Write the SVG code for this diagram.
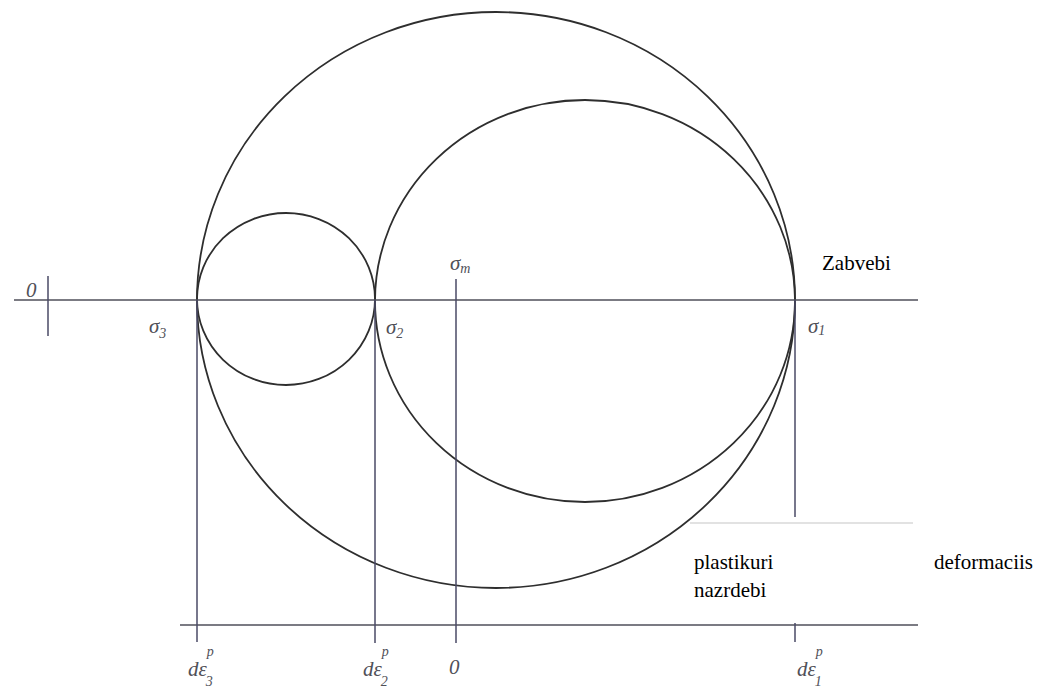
<svg xmlns="http://www.w3.org/2000/svg" width="1050" height="693" viewBox="0 0 1050 693">
<style>
.circ{fill:none;stroke:#2e2e2e;stroke-width:1.8}
.ax{fill:none;stroke:#4f4f5a;stroke-width:1.6}
.vl{fill:none;stroke:#4a4a66;stroke-width:1.5}
.hand{font-style:italic;fill:#505058;font-size:21px}
.sub{font-size:14px}
.txt{fill:#000;font-size:21px}
</style>
<rect width="1050" height="693" fill="#fff"/>
<g id="big-circle"><ellipse class="circ" cx="496" cy="300" rx="299" ry="288"/></g>
<g id="medium-circle"><ellipse class="circ" cx="585" cy="301" rx="210" ry="201"/></g>
<g id="small-circle"><ellipse class="circ" cx="286" cy="299" rx="89" ry="86"/></g>
<g id="connectors">
<line class="ax" x1="14" y1="300" x2="918" y2="300"/>
<line class="vl" x1="48" y1="276" x2="48" y2="336"/>
<line class="ax" x1="180" y1="625" x2="918" y2="625"/>
<line class="vl" x1="197" y1="300" x2="197" y2="642"/>
<line class="vl" x1="375" y1="300" x2="375" y2="643"/>
<line class="vl" x1="456" y1="279" x2="456" y2="643"/>
<line class="vl" x1="795" y1="300" x2="795" y2="517"/>
<line class="vl" x1="795" y1="622" x2="795" y2="642"/>
</g>
<g id="box" font-family="Liberation Serif, DejaVu Serif, serif">
<line x1="690" y1="523" x2="913" y2="523" stroke="#e2e2e2" stroke-width="2"/>
<rect x="686" y="527" width="364" height="96" fill="#fff"/>
<text class="txt" x="694" y="569" font-family="Liberation Serif, DejaVu Serif, serif">plastikuri</text>
<text class="txt" x="1033" y="569" text-anchor="end" font-family="Liberation Serif, DejaVu Serif, serif">deformaciis</text>
<text class="txt" x="694" y="597" font-family="Liberation Serif, DejaVu Serif, serif">nazrdebi</text>
</g>
<g id="label-zabvebi"><text class="txt" x="822" y="270" font-family="Liberation Serif, DejaVu Serif, serif">Zabvebi</text></g>
<g id="labels" font-family="Liberation Serif, DejaVu Serif, serif">
<text class="hand" x="26" y="297" font-family="Liberation Serif, DejaVu Serif, serif">0</text>
<text class="hand" x="149" y="333" font-family="Liberation Serif, DejaVu Serif, serif">σ<tspan class="sub" dy="5">3</tspan></text>
<text class="hand" x="386" y="334" font-family="Liberation Serif, DejaVu Serif, serif">σ<tspan class="sub" dy="4">2</tspan></text>
<text class="hand" x="450" y="270" font-family="Liberation Serif, DejaVu Serif, serif">σ<tspan class="sub" dy="3">m</tspan></text>
<text class="hand" x="808" y="333" font-family="Liberation Serif, DejaVu Serif, serif">σ<tspan class="sub" dy="2">1</tspan></text>
<text class="hand" x="188" y="676" font-family="Liberation Serif, DejaVu Serif, serif">dε<tspan class="sub" dy="-20">p</tspan><tspan class="sub" dx="-8" dy="30">3</tspan></text>
<text class="hand" x="363" y="676" font-family="Liberation Serif, DejaVu Serif, serif">dε<tspan class="sub" dy="-20">p</tspan><tspan class="sub" dx="-8" dy="30">2</tspan></text>
<text class="hand" x="449" y="674" font-family="Liberation Serif, DejaVu Serif, serif">0</text>
<text class="hand" x="797" y="676" font-family="Liberation Serif, DejaVu Serif, serif">dε<tspan class="sub" dy="-20">p</tspan><tspan class="sub" dx="-8" dy="30">1</tspan></text>
</g>
</svg>
